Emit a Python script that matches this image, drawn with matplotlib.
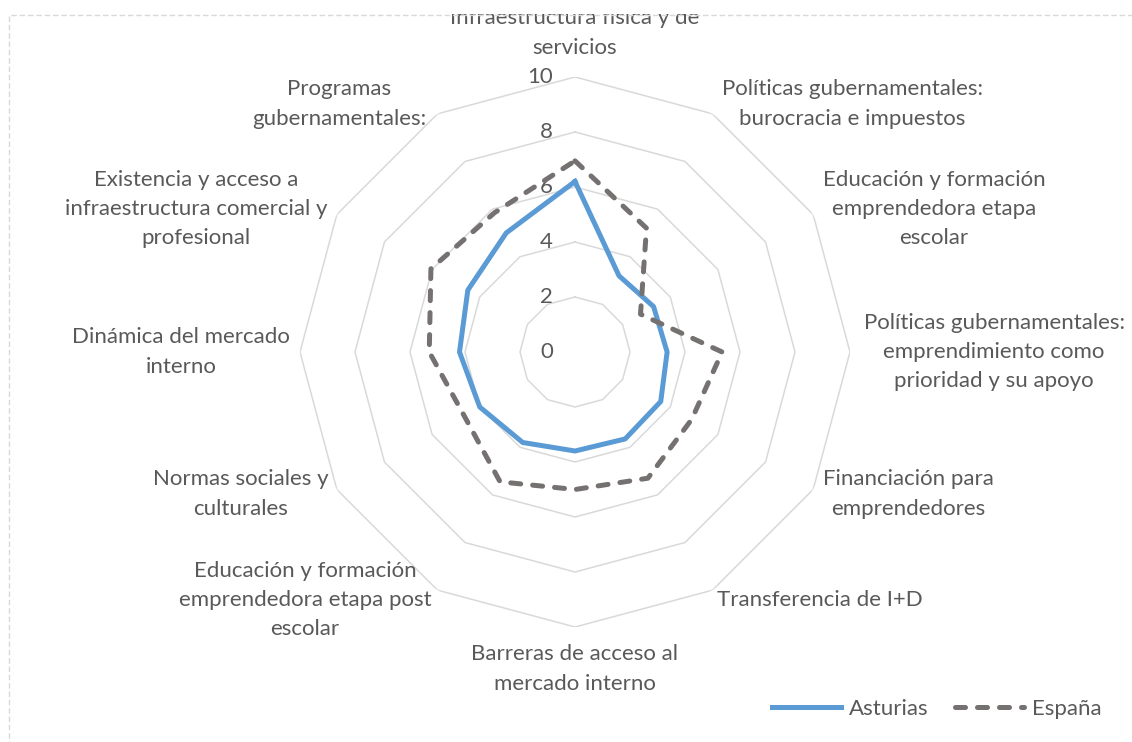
import numpy as np
import matplotlib.pyplot as plt
from matplotlib.patches import Rectangle

# datos (en el sentido de las agujas del reloj, empezando arriba)
categorias = [
    "Infraestructura física y de\nservicios",
    "Políticas gubernamentales:\nburocracia e impuestos",
    "Educación y formación\nemprendedora etapa\nescolar",
    "Políticas gubernamentales:\nemprendimiento como\nprioridad y su apoyo",
    "Financiación para\nemprendedores",
    "Transferencia de I+D",
    "Barreras de acceso al\nmercado interno",
    "Educación y formación\nemprendedora etapa post\nescolar",
    "Normas sociales y\nculturales",
    "Dinámica del mercado\ninterno",
    "Existencia y acceso a\ninfraestructura comercial y\nprofesional",
    "Programas\ngubernamentales:",
]
asturias = [6.2, 3.2, 3.3, 3.35, 3.6, 3.65, 3.6, 3.8, 4.0, 4.2, 4.5, 5.0]
espana = [6.95, 5.2, 2.75, 5.35, 4.9, 5.3, 5.0, 5.45, 4.65, 5.3, 6.05, 5.85]
niveles = [0, 2, 4, 6, 8, 10]

# centros de las etiquetas en pixeles (x, y desde arriba)
pos_etiquetas = [(575, 33), (852, 104), (934, 209), (994, 352), (908, 494),
                 (820, 600), (575, 669), (305, 600), (241, 494), (181, 352),
                 (196, 209), (339, 104)]

W, H = 1132, 742
gris_texto = "#595959"
fs = 16
plt.rcParams['font.family'] = ['Lato', 'DejaVu Sans']

fig = plt.figure(figsize=(W / 100, H / 100), dpi=100)
cx, cy, rad = 575, 352, 275
ax = fig.add_axes([(cx - rad) / W, (H - cy - rad) / H, 2 * rad / W, 2 * rad / H],
                  projection='polar')
ax.set_theta_offset(np.pi / 2)
ax.set_theta_direction(-1)
ax.set_ylim(0, 10)
ax.grid(False)
ax.set_xticks([])
ax.set_yticks([])
ax.spines['polar'].set_visible(False)
ax.patch.set_alpha(0)

n = len(categorias)
ang = np.linspace(0, 2 * np.pi, n, endpoint=False)
ang_c = np.append(ang, ang[0])

for r in niveles[1:]:
    ax.plot(ang_c, [r] * (n + 1), color="#d9d9d9", lw=1.1, zorder=1)

for r in niveles:
    ax.annotate(str(r), xy=(0, r), xytext=(-22, 0), textcoords='offset pixels',
                ha='right', va='center', fontsize=fs, color=gris_texto)

ax.plot(ang_c, asturias + asturias[:1], color="#5b9bd5", lw=3.6,
        solid_joinstyle='round', label="Asturias", zorder=3)
ax.plot(ang_c, espana + espana[:1], color="#767171", lw=3.6, ls=(0, (2.0, 2.4)),
        dash_capstyle='round', label="España", zorder=3)

for txt, (x, y) in zip(categorias, pos_etiquetas):
    fig.text(x / W, 1 - y / H, txt, ha='center', va='center', fontsize=fs,
             color=gris_texto, linespacing=1.58, multialignment='center')

fig.legend(loc='center', bbox_to_anchor=(937 / W, 1 - 709 / H), ncol=2,
           frameon=False, fontsize=fs, handlelength=3.1, handletextpad=0.35,
           columnspacing=1.2, labelcolor=gris_texto)

# recorte superior y marco discontinuo
fig.patches.append(Rectangle((0, 1 - 14 / H), 1, 14 / H, transform=fig.transFigure,
                             facecolor='white', edgecolor='none', zorder=20))
fig.patches.append(Rectangle((9 / W, -0.1), 1.2, 1.1 - 15 / H, transform=fig.transFigure,
                             fill=False, edgecolor='#d9d9d9', lw=1, ls=(0, (4, 2)),
                             zorder=21))

fig.savefig("out.png", dpi=100, facecolor='white')
